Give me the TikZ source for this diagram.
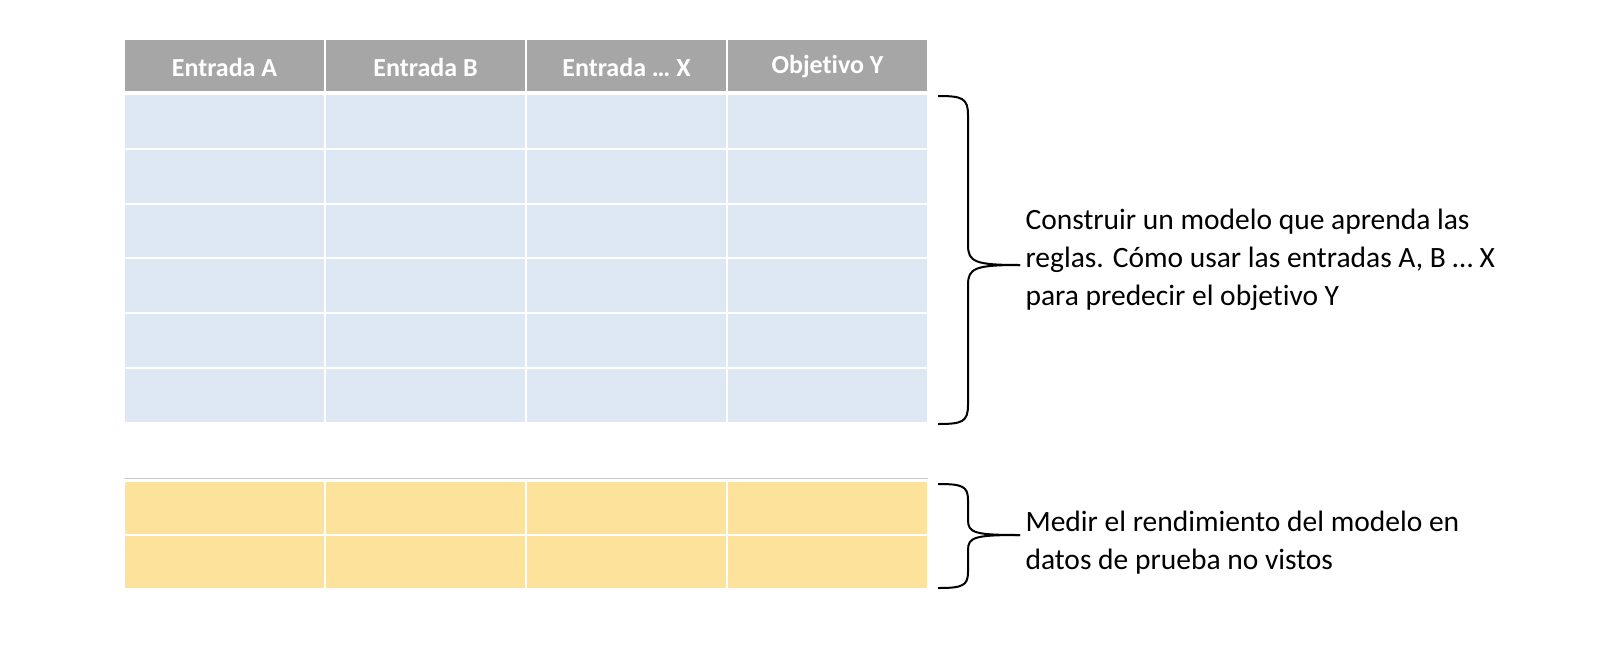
\documentclass[tikz,border=0pt]{standalone}
\usepackage{fontspec}
\setmainfont{Carlito}[Ligatures={NoCommon}]
\definecolor{hdr}{HTML}{A6A6A6}
\definecolor{bl}{HTML}{DEE8F4}
\definecolor{yl}{HTML}{FCE29A}
\tikzset{
 cellb/.style={fill=bl,draw=white,line width=2pt},
 celly/.style={fill=yl,draw=white,line width=2pt},
 cellh/.style={fill=hdr,draw=white,line width=2pt},
 htxt/.style={text=white,font=\fontsize{26}{30}\selectfont\bfseries},
 rtxt/.style={font=\fontsize{29.5}{38}\selectfont,align=left,anchor=west},
 brace/.style={line width=2pt,black}
}
\begin{document}
\begin{tikzpicture}[x=1pt,y=-1pt]
\fill[white] (0,0) rectangle (1605,656);
\foreach \c [count=\i from 0] in {{Entrada A},{Entrada B},{Entrada \ldots{} X},{Objetivo Y}}{
  \pgfmathsetmacro\xa{124+201*\i}
  \draw[cellh] (\xa,39) rectangle ++(201,53);
  \node[htxt] (h\i) at (\xa+100.5,67) {\c};
  \foreach \r in {0,1,2,3,4,5}{
    \draw[cellb] (\xa,94+\r*54.8) rectangle ++(201,54.8);
  }
  \foreach \r in {0,1}{
    \draw[celly] (\xa,481+\r*54) rectangle ++(201,54);
  }
}
\draw[gray!40,line width=0.8pt] (124,478) -- (928,478);
% top brace
\draw[brace] (938,96) .. controls (962,96) and (968,98) .. (968,115) -- (968,245)
  .. controls (968,262) and (975,265) .. (1020,265);
\draw[brace] (938,424) .. controls (962,424) and (968,422) .. (968,405) -- (968,285)
  .. controls (968,268) and (975,265) .. (1020,265);
% bottom brace
\draw[brace] (938,484) .. controls (962,484) and (968,486) .. (968,500) -- (968,520)
  .. controls (968,533) and (975,535) .. (1020,535);
\draw[brace] (938,588) .. controls (962,588) and (968,586) .. (968,572) -- (968,550)
  .. controls (968,537) and (975,535) .. (1020,535);
\node[rtxt] (t1) at (1022,260) {Construir un modelo que aprenda las\\reglas. Cómo usar las entradas A, B \ldots{} X\\para predecir el objetivo Y};
\node[rtxt] (t2) at (1022,543) {Medir el rendimiento del modelo en\\datos de prueba no vistos};
\pgfresetboundingbox
\useasboundingbox (0,0) rectangle (1605,656);
\end{tikzpicture}
\end{document}
